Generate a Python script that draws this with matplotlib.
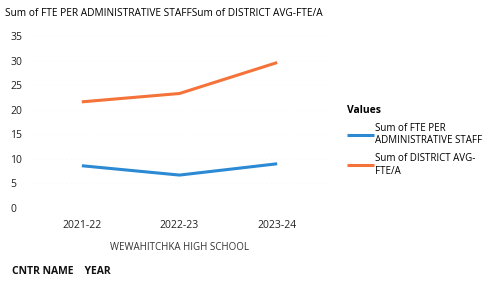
import matplotlib
matplotlib.use("Agg")
from matplotlib import pyplot as plt

years = ["2021-22", "2022-23", "2023-24"]
fte_per_admin = [8.6, 6.7, 9.0]
district_avg = [21.6, 23.3, 29.6]
school = "WEWAHITCHKA HIGH SCHOOL"

plt.rcParams['font.family'] = ['Open Sans', 'DejaVu Sans']
plt.rcParams['font.size'] = 7.5

fig = plt.figure(figsize=(4.93, 2.82), dpi=100)
W, H = 493, 282
# plot area in pixel coords
left, right, top, bottom = 33, 326, 36, 208
ax = fig.add_axes([left / W, 1 - bottom / H, (right - left) / W, (bottom - top) / H])

x = [0.5, 1.5, 2.5]
ax.plot(x, fte_per_admin, color='#2B8AD3', lw=2.2, solid_capstyle='butt',
        label='Sum of FTE PER\nADMINISTRATIVE STAFF')
ax.plot(x, district_avg, color='#F4733A', lw=2.2, solid_capstyle='butt',
        label='Sum of DISTRICT AVG-\nFTE/A')

ax.set_xlim(0, 3)
ax.set_ylim(0, 35)
ax.set_yticks(range(0, 36, 5))
ax.set_xticks(x)
ax.set_xticklabels(years)
ax.yaxis.grid(True, color='#f0f0f0', lw=0.5, ls=(0, (1, 5)))
for s in ax.spines.values():
    s.set_visible(False)
ax.tick_params(length=0, colors='#222222', labelsize=7.5)
ax.tick_params(axis='y', pad=16.5)
ax.tick_params(axis='x', pad=9)
for lbl in ax.get_yticklabels():
    lbl.set_horizontalalignment('left')

fig.text(180 / W, 1 - 247 / H, school, ha='center', va='center', fontsize=7, color='#333333')
fig.text(12 / W, 1 - 271 / H, "CNTR NAME    YEAR", ha='left', va='center', fontsize=7.5,
         fontweight='bold', color='#111111')
fig.text(5 / W, 1 - 14 / H, "Sum of FTE PER ADMINISTRATIVE STAFFSum of DISTRICT AVG-FTE/A",
         ha='left', va='center', fontsize=7.3, color='#000000')

leg = fig.legend(loc='upper left', bbox_to_anchor=(338 / W, 1 - 96 / H), frameon=False,
                 title='Values', handlelength=2.8, handletextpad=0.1, labelspacing=0.7,
                 fontsize=7, alignment='left')
leg.get_title().set_fontweight('bold')
leg.get_title().set_fontsize(7.5)

fig.savefig("out.png", dpi=100)
